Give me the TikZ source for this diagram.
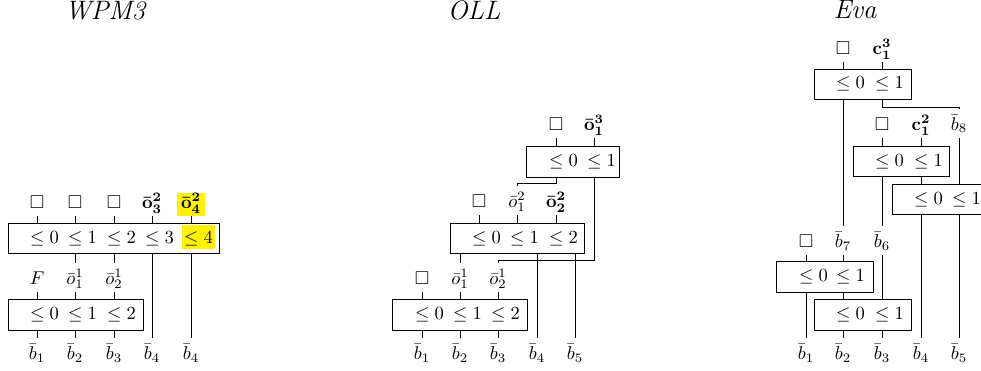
\documentclass[tikz,border=0pt]{standalone}
\usepackage{amssymb}
\usetikzlibrary{fit}

% bold barred output label and bold counter label
\newcommand{\boldbar}[3]{{\boldmath$\bar{\mathbf{#1}}^{\mathbf{#2}}_{\mathbf{#3}}$}}
\newcommand{\boldcnt}[3]{{\boldmath$\mathbf{#1}^{\mathbf{#2}}_{\mathbf{#3}}$}}

\tikzset{
  lbl/.style={inner sep=0pt, text height=11.5pt, text depth=4pt},
  hilbl/.style={inner xsep=2pt, inner ysep=0pt, text height=8pt, text depth=4pt, fill=yellow},
  gate/.style={draw, inner sep=0pt, line width=0.5pt},
  cmp/.style={anchor=base west, inner sep=0pt, xshift=-3.89pt},
  hicmp/.style={anchor=base west, inner xsep=1pt, inner ysep=0pt, xshift=-4.89pt,
                text height=9.5pt, text depth=3.1pt, fill=yellow},
  title/.style={anchor=base, font=\Large\itshape},
}

\begin{document}
\begin{tikzpicture}[x=0.54pt, y=-0.54pt, line width=0.4pt]
\useasboundingbox (0,0) rectangle (981,370);
\clip (0,0) rectangle (981,370);

% ---------------- titles ----------------
\node[title] (tW) at (105,19.5) {WPM3};
\node[title] (tO) at (474,19.5) {OLL};
\node[title] (tE) at (855,19) {Eva};

% ================= WPM3 =================
\node[lbl, anchor=south] (Wt1) at (37,216) {$\square$};
\node[lbl, anchor=south] (Wt2) at (75,216) {$\square$};
\node[lbl, anchor=south] (Wt3) at (114,216) {$\square$};
\node[lbl, anchor=south] (Wt4) at (152,216) {\boldbar{o}{2}{3}};
\node[hilbl, anchor=south] (Wt5) at (191,216) {\boldbar{o}{2}{4}};

\node[gate, fit={(8,223) (219,253)}] (W1) {};
\node[cmp] (W1a) at (37,243) {$\le 0$};
\node[cmp] (W1b) at (75,243) {$\le 1$};
\node[cmp] (W1c) at (114,243) {$\le 2$};
\node[cmp] (W1d) at (152,243) {$\le 3$};
\node[hicmp] (W1e) at (191,243) {$\le 4$};

\foreach \t in {Wt1,Wt2,Wt3,Wt4,Wt5} \draw (\t.south) -- (\t.south |- W1.north);

\node[lbl, anchor=south] (Wm1) at (37,292) {$F$};
\node[lbl, anchor=south] (Wm2) at (75,292) {$\bar o^1_1$};
\node[lbl, anchor=south] (Wm3) at (114,292) {$\bar o^1_2$};

\draw (W1.south -| Wm2) -- (Wm2.north);
\draw (W1.south -| Wm3) -- (Wm3.north);

\node[gate, fit={(8,299) (143,330)}] (W2) {};
\node[cmp] (W2a) at (37,319.5) {$\le 0$};
\node[cmp] (W2b) at (75,319.5) {$\le 1$};
\node[cmp] (W2c) at (114,319.5) {$\le 2$};

\foreach \t in {Wm1,Wm2,Wm3} \draw (\t.south) -- (\t.south |- W2.north);

\node[lbl, anchor=north] (Wb1) at (37,338) {$\bar b_1$};
\node[lbl, anchor=north] (Wb2) at (75,338) {$\bar b_2$};
\node[lbl, anchor=north] (Wb3) at (114,338) {$\bar b_3$};
\node[lbl, anchor=north] (Wb4) at (152,338) {$\bar b_4$};
\node[lbl, anchor=north] (Wb5) at (191,338) {$\bar b_4$};

\foreach \b in {Wb1,Wb2,Wb3} \draw (W2.south -| \b) -- (\b.north);
\foreach \b in {Wb4,Wb5} \draw (W1.south -| \b) -- (\b.north);

% ================= OLL =================
\node[lbl, anchor=south] (Ot1) at (556,138) {$\square$};
\node[lbl, anchor=south] (Ot2) at (594,138) {\boldbar{o}{3}{1}};

\node[gate, fit={(526,146) (619,177)}] (O1) {};
\node[cmp] (O1a) at (556,166.5) {$\le 0$};
\node[cmp] (O1b) at (594,166.5) {$\le 1$};
\foreach \t in {Ot1,Ot2} \draw (\t.south) -- (\t.south |- O1.north);

\node[lbl, anchor=south] (Om1) at (479,215) {$\square$};
\node[lbl, anchor=south] (Om2) at (517,215) {$\bar o^2_1$};
\node[lbl, anchor=south] (Om3) at (556,215) {\boldbar{o}{2}{2}};

\node[gate, fit={(450,223) (584,253)}] (O2) {};
\node[cmp] (O2a) at (479,243) {$\le 0$};
\node[cmp] (O2b) at (517,243) {$\le 1$};
\node[cmp] (O2c) at (556,243) {$\le 2$};
\foreach \t in {Om1,Om2,Om3} \draw (\t.south) -- (\t.south |- O2.north);

\node[lbl, anchor=south] (Ol1) at (422,292) {$\square$};
\node[lbl, anchor=south] (Ol2) at (460,292) {$\bar o^1_1$};
\node[lbl, anchor=south] (Ol3) at (498,292) {$\bar o^1_2$};

% feedback of the top comparator's outputs
\draw (O1.south -| Ot1) -- ++(0,6) -| (Om2.north);
\draw (O1.south -| Ot2) -- ++(0,83) -| (Ol3.north);

\node[gate, fit={(392,299) (527,330)}] (O3) {};
\node[cmp] (O3a) at (422,319.5) {$\le 0$};
\node[cmp] (O3b) at (460,319.5) {$\le 1$};
\node[cmp] (O3c) at (498,319.5) {$\le 2$};
\foreach \t in {Ol1,Ol2,Ol3} \draw (\t.south) -- (\t.south |- O3.north);

\draw (O2.south -| Ol2) -- (Ol2.north);

\node[lbl, anchor=north] (Ob1) at (422,338) {$\bar b_1$};
\node[lbl, anchor=north] (Ob2) at (460,338) {$\bar b_2$};
\node[lbl, anchor=north] (Ob3) at (498,338) {$\bar b_3$};
\node[lbl, anchor=north] (Ob4) at (537,338) {$\bar b_4$};
\node[lbl, anchor=north] (Ob5) at (575,338) {$\bar b_5$};

\foreach \b in {Ob1,Ob2,Ob3} \draw (O3.south -| \b) -- (\b.north);
\foreach \b in {Ob4,Ob5} \draw (O2.south -| \b) -- (\b.north);

% ================= Eva =================
\node[lbl, anchor=south] (Et1) at (843,62) {$\square$};
\node[lbl, anchor=south] (Et2) at (882,62) {\boldcnt{c}{3}{1}};

\node[gate, fit={(814,69) (911,99)}] (EA) {};
\node[cmp] (EAa) at (843,89) {$\le 0$};
\node[cmp] (EAb) at (882,89) {$\le 1$};
\foreach \t in {Et1,Et2} \draw (\t.south) -- (\t.south |- EA.north);

\node[lbl, anchor=south] (Es1) at (882,138) {$\square$};
\node[lbl, anchor=south] (Es2) at (921,138) {\boldcnt{c}{2}{1}};
\node[lbl, anchor=south] (Es3) at (959,138) {$\bar b_8$};

\draw (EA.south -| Et2) -- ++(0,8) -| (Es3.north);

\node[gate, fit={(853,146) (949,176)}] (EB) {};
\node[cmp] (EBa) at (882,166) {$\le 0$};
\node[cmp] (EBb) at (921,166) {$\le 1$};
\foreach \t in {Es1,Es2} \draw (\t.south) -- (\t.south |- EB.north);

\node[gate, fit={(892,184) (988,214)}] (EC) {};
\node[cmp] (ECa) at (921,204) {$\le 0$};
\node[cmp] (ECb) at (959,204) {$\le 1$};
\draw (EB.south -| Es2) -- (EC.north -| Es2);
\draw (Es3.south) -- (Es3.south |- EC.north);

\node[lbl, anchor=south] (Er1) at (806,255) {$\square$};
\node[lbl, anchor=south] (Er2) at (843,255) {$\bar b_7$};
\node[lbl, anchor=south] (Er3) at (882,255) {$\bar b_6$};

\draw (EA.south -| Er2) -- (Er2.north);
\draw (EB.south -| Er3) -- (Er3.north);

\node[gate, fit={(776,261) (873,292)}] (ED) {};
\node[cmp] (EDa) at (806,281.5) {$\le 0$};
\node[cmp] (EDb) at (843,281.5) {$\le 1$};
\foreach \t in {Er1,Er2} \draw (\t.south) -- (\t.south |- ED.north);

\node[gate, fit={(814,299) (911,330)}] (EE) {};
\node[cmp] (EEa) at (843,319.5) {$\le 0$};
\node[cmp] (EEb) at (882,319.5) {$\le 1$};
\draw (ED.south -| Er2) -- (EE.north -| Er2);
\draw (Er3.south) -- (Er3.south |- EE.north);

\node[lbl, anchor=north] (Eb1) at (806,338) {$\bar b_1$};
\node[lbl, anchor=north] (Eb2) at (843,338) {$\bar b_2$};
\node[lbl, anchor=north] (Eb3) at (882,338) {$\bar b_3$};
\node[lbl, anchor=north] (Eb4) at (921,338) {$\bar b_4$};
\node[lbl, anchor=north] (Eb5) at (959,338) {$\bar b_5$};

\draw (ED.south -| Eb1) -- (Eb1.north);
\foreach \b in {Eb2,Eb3} \draw (EE.south -| \b) -- (\b.north);
\foreach \b in {Eb4,Eb5} \draw (EC.south -| \b) -- (\b.north);

\end{tikzpicture}
\end{document}
